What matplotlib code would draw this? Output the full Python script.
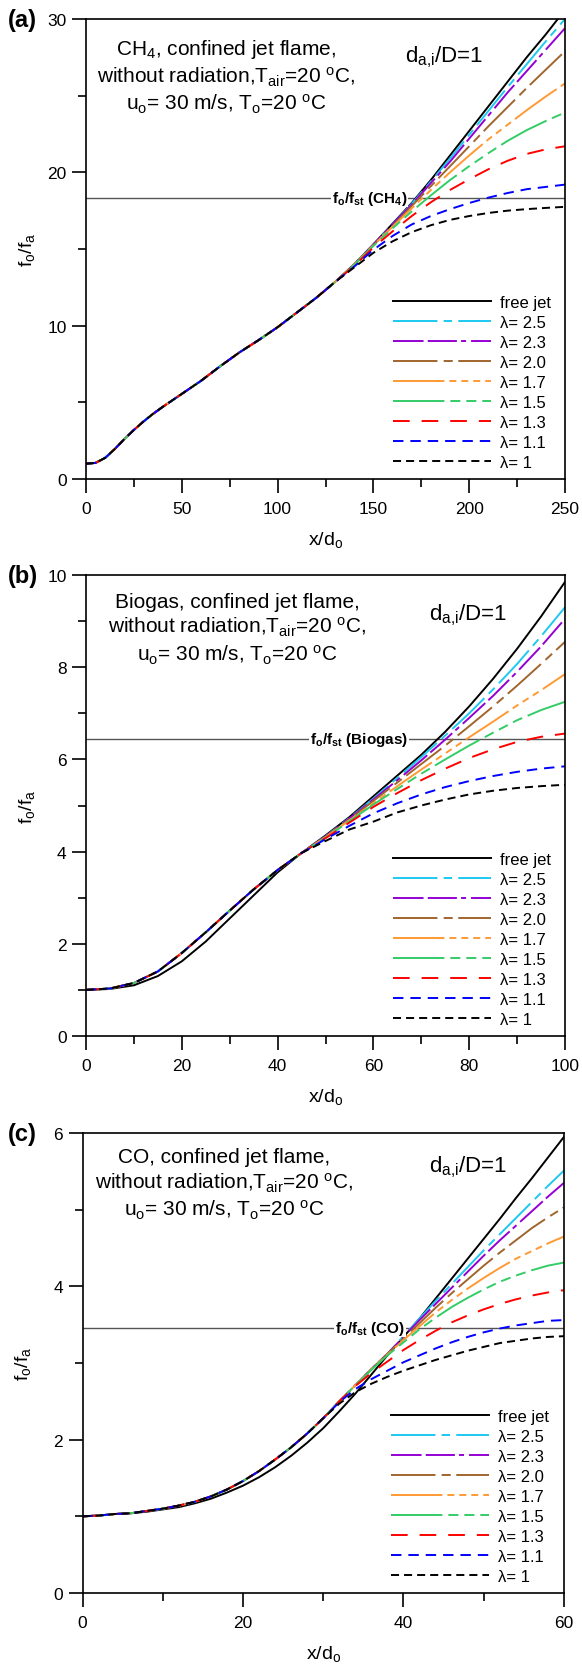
import matplotlib
matplotlib.use("Agg")
import matplotlib.pyplot as plt
from matplotlib.ticker import MultipleLocator

plt.rcParams['font.family'] = ['Liberation Sans', 'DejaVu Sans']
plt.rcParams['mathtext.fontset'] = 'custom'
plt.rcParams['mathtext.rm'] = 'Liberation Sans'
plt.rcParams['mathtext.it'] = 'Liberation Sans:italic'
plt.rcParams['mathtext.bf'] = 'Liberation Sans:bold'
plt.rcParams['lines.scale_dashes'] = False

# =========================
# data
# =========================
LABELS = ["free jet", "λ= 2.5", "λ= 2.3", "λ= 2.0", "λ= 1.7",
          "λ= 1.5", "λ= 1.3", "λ= 1.1", "λ= 1"]

# (a) CH4
xa = [0, 5, 10, 15, 20, 25, 30, 35, 40, 50, 60, 70, 80, 90, 100, 110, 120, 130,
      140, 150, 160, 170, 180, 190, 200, 210, 220, 230, 240, 250]
base_a = [1.0, 1.05, 1.38, 1.95, 2.6, 3.2, 3.75, 4.25, 4.7, 5.55, 6.4, 7.35,
          8.25, 9.05, 9.9, 10.85, 11.8, 12.85]
a_free = base_a + [14.0, 15.3, 16.65, 18.0, 19.5, 21.1, 22.7, 24.3, 25.9, 27.5, 29.0, 30.6]
a_25 = base_a + [14.0, 15.3, 16.6, 17.95, 19.4, 20.9, 22.45, 24.0, 25.55, 27.05, 28.55, 30.0]
a_23 = base_a + [14.0, 15.3, 16.6, 17.9, 19.3, 20.7, 22.2, 23.7, 25.2, 26.6, 28.0, 29.4]
a_20 = base_a + [14.0, 15.25, 16.5, 17.8, 19.1, 20.4, 21.7, 23.0, 24.25, 25.5, 26.7, 27.9]
a_17 = base_a + [14.0, 15.25, 16.45, 17.65, 18.85, 20.0, 21.1, 22.15, 23.1, 24.05, 24.95, 25.8]
a_15 = base_a + [13.95, 15.2, 16.35, 17.45, 18.5, 19.5, 20.4, 21.25, 22.05, 22.75, 23.35, 23.9]
a_13 = base_a + [13.9, 15.1, 16.15, 17.15, 18.05, 18.85, 19.55, 20.2, 20.75, 21.2, 21.5, 21.7]
a_11 = base_a + [13.85, 14.95, 15.85, 16.6, 17.15, 17.6, 18.0, 18.35, 18.65, 18.9, 19.05, 19.2]
a_10 = base_a + [13.8, 14.75, 15.5, 16.1, 16.55, 16.9, 17.15, 17.35, 17.5, 17.6, 17.68, 17.75]
st_a = 18.35

# (b) Biogas
xb = [0, 5, 10, 15, 20, 25, 30, 35, 40, 45, 50, 55, 60, 65, 70, 75, 80, 85, 90, 95, 100]
base_b = [1.0, 1.03, 1.15, 1.4, 1.8, 2.25, 2.72, 3.18, 3.6, 3.97]
b_free = [1.0, 1.02, 1.1, 1.3, 1.62, 2.05, 2.55, 3.05, 3.55, 3.97,
          4.35, 4.75, 5.2, 5.65, 6.1, 6.6, 7.15, 7.75, 8.4, 9.1, 9.85]
b_25 = base_b + [4.33, 4.73, 5.15, 5.6, 6.05, 6.52, 7.0, 7.52, 8.07, 8.67, 9.3]
b_23 = base_b + [4.33, 4.72, 5.13, 5.55, 5.98, 6.43, 6.9, 7.38, 7.9, 8.45, 9.05]
b_20 = base_b + [4.32, 4.7, 5.1, 5.5, 5.9, 6.3, 6.72, 7.15, 7.6, 8.07, 8.55]
b_17 = base_b + [4.31, 4.68, 5.05, 5.42, 5.78, 6.13, 6.48, 6.82, 7.17, 7.5, 7.85]
b_15 = base_b + [4.3, 4.66, 5.02, 5.36, 5.69, 6.0, 6.3, 6.58, 6.85, 7.07, 7.25]
b_13 = base_b + [4.29, 4.63, 4.97, 5.27, 5.55, 5.8, 6.03, 6.22, 6.38, 6.49, 6.56]
b_11 = base_b + [4.27, 4.56, 4.83, 5.05, 5.24, 5.4, 5.53, 5.64, 5.73, 5.8, 5.85]
b_10 = base_b + [4.23, 4.48, 4.65, 4.85, 5.0, 5.13, 5.24, 5.32, 5.38, 5.42, 5.45]
st_b = 6.45

# (c) CO
xc = [0, 2, 4, 6, 8, 10, 12, 14, 16, 18, 20, 22, 24, 26, 28, 30, 32, 34, 36,
      38, 40, 42, 44, 46, 48, 50, 52, 54, 56, 58, 60]
base_c = [1.0, 1.01, 1.03, 1.04, 1.07, 1.1, 1.14, 1.19, 1.26, 1.35, 1.46,
          1.59, 1.74, 1.9, 2.08, 2.28]
c_free = [1.0, 1.01, 1.03, 1.04, 1.06, 1.09, 1.12, 1.17, 1.23, 1.31, 1.4,
          1.51, 1.64, 1.79, 1.96, 2.15, 2.37, 2.6, 2.85, 3.1, 3.34, 3.58,
          3.84, 4.1, 4.36, 4.62, 4.88, 5.15, 5.41, 5.68, 5.95]
c_25 = base_c + [2.5, 2.71, 2.92, 3.12, 3.35, 3.58, 3.81, 4.03, 4.25, 4.47, 4.68, 4.89, 5.1, 5.31, 5.51]
c_23 = base_c + [2.5, 2.71, 2.92, 3.12, 3.34, 3.56, 3.77, 3.98, 4.19, 4.4, 4.6, 4.79, 4.98, 5.17, 5.35]
c_20 = base_c + [2.5, 2.71, 2.92, 3.12, 3.32, 3.52, 3.72, 3.91, 4.09, 4.27, 4.44, 4.6, 4.76, 4.9, 5.03]
c_17 = base_c + [2.5, 2.71, 2.92, 3.11, 3.3, 3.48, 3.66, 3.82, 3.97, 4.11, 4.24, 4.36, 4.46, 4.56, 4.65]
c_15 = base_c + [2.5, 2.71, 2.91, 3.1, 3.27, 3.44, 3.59, 3.73, 3.85, 3.96, 4.06, 4.14, 4.21, 4.27, 4.31]
c_13 = base_c + [2.5, 2.7, 2.87, 3.02, 3.17, 3.3, 3.42, 3.53, 3.62, 3.7, 3.77, 3.83, 3.88, 3.92, 3.95]
c_11 = base_c + [2.49, 2.66, 2.79, 2.9, 3.01, 3.1, 3.19, 3.27, 3.34, 3.4, 3.45, 3.49, 3.52, 3.55, 3.56]
c_10 = base_c + [2.47, 2.62, 2.73, 2.82, 2.9, 2.97, 3.04, 3.1, 3.16, 3.21, 3.26, 3.29, 3.32, 3.34, 3.35]
st_c = 3.46

# =========================
# styles
# =========================
COLORS = ["black", "#1EC8F0", "#9400D3", "#A0652D", "#FF9933",
          "#33CC66", "#FF0000", "#0000FF", "black"]
DASHES = [None,
          (32, 4.5, 6, 4.5),
          (22, 3, 21, 3, 3.6, 3.6),
          (32, 4.5, 6.5, 4),
          (37, 3.6, 5, 3.6, 5, 3.6, 5, 3.6),
          (37, 4.3, 7.2, 4.3, 7.2, 4.3, 7.2, 4.3),
          (12, 8.6),
          (7.5, 5),
          (5.8, 3.6)]
LW = 1.4

W, H = 582, 1665
panels = [
    dict(tag="(a)", rect=[86, 20, 565, 480], x=xa,
         ys=[a_free, a_25, a_23, a_20, a_17, a_15, a_13, a_11, a_10],
         xlim=250, ylim=30, xmaj=50, ymaj=10, st=st_a, stx=148,
         fuel="CH$_\\mathregular{4}$", stname="CH$_\\mathbf{4}$",
         txy=(0.292, 0.876), dxy=(0.748, 0.92)),
    dict(tag="(b)", rect=[86, 576, 565, 1037], x=xb,
         ys=[b_free, b_25, b_23, b_20, b_17, b_15, b_13, b_11, b_10],
         xlim=100, ylim=10, xmaj=20, ymaj=2, st=st_b, stx=57,
         fuel="Biogas", stname="Biogas",
         txy=(0.316, 0.883), dxy=(0.797, 0.915)),
    dict(tag="(c)", rect=[82.5, 1134, 564, 1594], x=xc,
         ys=[c_free, c_25, c_23, c_20, c_17, c_15, c_13, c_11, c_10],
         xlim=60, ylim=6, xmaj=20, ymaj=2, st=st_c, stx=35.8,
         fuel="CO", stname="CO",
         txy=(0.295, 0.889), dxy=(0.80, 0.928)),
]

fig = plt.figure(figsize=(W / 100, H / 100), dpi=100)

for p in panels:
    l, t, r, b = p["rect"]
    ax = fig.add_axes([l / W, 1 - b / H, (r - l) / W, (b - t) / H])
    handles = []
    for y, c, d, lab in zip(p["ys"], COLORS, DASHES, LABELS):
        if d is None:
            ln, = ax.plot(p["x"], y, color=c, lw=LW, ls="-", label=lab)
        else:
            ln, = ax.plot(p["x"], y, color=c, lw=LW, ls=(0, d), label=lab)
        handles.append(ln)

    ax.set_xlim(0, p["xlim"])
    ax.set_ylim(0, p["ylim"])
    ax.xaxis.set_major_locator(MultipleLocator(p["xmaj"]))
    ax.xaxis.set_minor_locator(MultipleLocator(p["xmaj"] / 2))
    ax.yaxis.set_major_locator(MultipleLocator(p["ymaj"]))
    ax.yaxis.set_minor_locator(MultipleLocator(p["ymaj"] / 2))
    ax.tick_params(which="both", direction="out", width=1.2, labelsize=12.5,
                   top=False, right=False)
    ax.tick_params(which="major", length=10)
    ax.tick_params(which="minor", length=6)
    ax.tick_params(axis="x", pad=6)
    ax.tick_params(axis="y", pad=4)
    for s in ax.spines.values():
        s.set_linewidth(1.2)

    ax.set_xlabel("x/d$_\\mathregular{o}$", fontsize=14)
    ax.set_ylabel("f$_\\mathregular{o}$/f$_\\mathregular{a}$", fontsize=14)
    ax.xaxis.set_label_coords(0.5, -0.108)
    ax.yaxis.set_label_coords(-0.102, 0.5)

    # stoichiometric line
    ax.axhline(p["st"], color="#555555", lw=1.0, zorder=1)
    ax.text(p["stx"], p["st"],
            "$\\mathbf{f_o/f_{st}}$ (" + p["stname"] + ")",
            ha="center", va="center", fontsize=11, fontweight="bold",
            bbox=dict(facecolor="white", edgecolor="none", pad=0.5), zorder=2)

    ax.text(p["txy"][0], p["txy"][1],
            p["fuel"] + ", confined jet flame,\n"
            "without radiation,T$_\\mathregular{air}$=20 $^\\mathregular{o}$C,\n"
            "u$_\\mathregular{o}$= 30 m/s, T$_\\mathregular{o}$=20 $^\\mathregular{o}$C",
            transform=ax.transAxes, ha="center", va="center", fontsize=15,
            linespacing=1.25)
    ax.text(p["dxy"][0], p["dxy"][1], "d$_\\mathregular{a{,}i}$/D=1",
            transform=ax.transAxes, ha="center", va="center", fontsize=16)

    ax.legend(handles=handles, loc="lower left", bbox_to_anchor=(0.64, 0.02),
              frameon=False, fontsize=12, handlelength=5.9, handletextpad=0.55,
              labelspacing=0.3, borderpad=0, borderaxespad=0)

    fig.text(8 / W, 1 - t / H, p["tag"], ha="left", va="center",
             fontsize=17, fontweight="bold")

fig.savefig("out.png", dpi=100)
